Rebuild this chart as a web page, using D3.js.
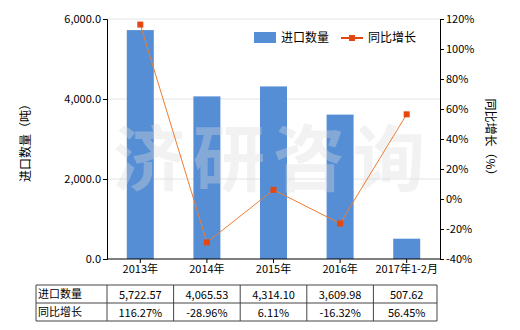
<!DOCTYPE html>
<html><head><meta charset="utf-8">
<script src="https://cdn.jsdelivr.net/npm/d3@7"></script>
<style>body{margin:0;background:#fff}svg{display:block}text{font-family:"Noto Sans CJK SC","Noto Sans",sans-serif}</style>
</head><body>
<script>
const categories = ["2013年","2014年","2015年","2016年","2017年1-2月"];
const importQty = [5722.57, 4065.53, 4314.10, 3609.98, 507.62];
const growth = [116.27, -28.96, 6.11, -16.32, 56.45];
const qtyLabels = ["5,722.57","4,065.53","4,314.10","3,609.98","507.62"];
const growthLabels = ["116.27%","-28.96%","6.11%","-16.32%","56.45%"];
const leftTicks = [0, 2000, 4000, 6000];
const rightTicks = [-40,-20,0,20,40,60,80,100,120];
const seriesNames = ["进口数量","同比增长"];

const W=520,H=330;
const m={l:107,r:440,t:19,b:259};
const svg=d3.select("body").append("svg").attr("width",W).attr("height",H);
const x=d3.scaleBand().domain(categories).range([m.l,m.r]).paddingInner(0.6).paddingOuter(0.3);
const xc=d3.scaleBand().domain(categories).range([m.l,m.r]);
const y=d3.scaleLinear().domain([0,6000]).range([m.b,m.t]);
const y2=d3.scaleLinear().domain([-40,120]).range([m.b,m.t]);

// gridlines
svg.append("g").selectAll("line").data(leftTicks.filter(d=>d>0)).join("line")
 .attr("x1",m.l).attr("x2",m.r).attr("y1",d=>y(d)).attr("y2",d=>y(d))
 .attr("stroke","#e3e3e3").attr("stroke-width",1);

// bars
const bw=27;
svg.append("g").selectAll("rect").data(importQty).join("rect")
 .attr("x",(d,i)=>xc(categories[i])+xc.bandwidth()/2-bw/2)
 .attr("width",bw).attr("y",d=>y(d)).attr("height",d=>m.b-y(d)).attr("fill","#558ed5");

// watermark
svg.append("text").attr("x",273).attr("y",185).attr("text-anchor","middle")
 .attr("font-size",72).attr("font-weight","bold").attr("fill","#dcdcdc").attr("opacity",0.35)
 .attr("letter-spacing",8).text("济研咨询");

// line
const line=d3.line().x((d,i)=>xc(categories[i])+xc.bandwidth()/2).y(d=>y2(d));
svg.append("path").datum(growth).attr("d",line).attr("fill","none").attr("stroke","#ed7d31").attr("stroke-width",1);
svg.append("g").selectAll("rect").data(growth).join("rect")
 .attr("x",(d,i)=>xc(categories[i])+xc.bandwidth()/2-3).attr("y",d=>y2(d)-3)
 .attr("width",6).attr("height",6).attr("fill","#e2480f");

// axes
const fs=11;
const la=d3.axisLeft(y).tickValues(leftTicks).tickFormat(d3.format(",.1f")).tickSize(4);
const gL=svg.append("g").attr("transform",`translate(${m.l},0)`).call(la);
const ra=d3.axisRight(y2).tickValues(rightTicks).tickFormat(d=>d+"%").tickSize(4);
const gR=svg.append("g").attr("transform",`translate(${m.r},0)`).call(ra);
const xa=d3.axisBottom(xc).tickSize(4);
const gB=svg.append("g").attr("transform",`translate(0,${m.b})`).call(xa);
[gL,gR,gB].forEach(g=>{
  g.select(".domain").attr("stroke","#000");
  g.selectAll(".tick line").attr("stroke","#000");
  g.selectAll("text").attr("font-size",fs).attr("fill","#000").style("font-family",'"Noto Sans CJK SC",sans-serif');
});
gB.select(".domain").attr("d",`M${m.l},0H${m.r}`);
gL.selectAll("text").attr("x",-6);
gR.selectAll("text").attr("x",6);
gB.selectAll("text").attr("y",6);

// axis titles
svg.append("text").attr("transform","translate(30,140) rotate(-90)").attr("text-anchor","middle")
 .attr("font-size",12).text("进口数量（吨）");
svg.append("text").attr("transform","translate(486,140) rotate(90)").attr("text-anchor","middle")
 .attr("font-size",12).text("同比增长（%）");

// legend
svg.append("rect").attr("x",254).attr("y",32).attr("width",22).attr("height",11).attr("fill","#558ed5");
svg.append("text").attr("x",281).attr("y",42).attr("font-size",12).text(seriesNames[0]);
svg.append("line").attr("x1",341).attr("x2",363).attr("y1",38).attr("y2",38).attr("stroke","#e2480f").attr("stroke-width",2);
svg.append("rect").attr("x",349).attr("y",35).attr("width",6).attr("height",6).attr("fill","#e2480f");
svg.append("text").attr("x",368).attr("y",42).attr("font-size",12).text(seriesNames[1]);

// table
const tL=36, rowY=[285,303,321];
const tb=svg.append("g");
const cols=[tL].concat(categories.map(c=>xc(c))).concat([m.r-3]);
// horizontal lines
rowY.forEach(yy=>tb.append("line").attr("x1",tL).attr("x2",m.r-3).attr("y1",yy).attr("y2",yy).attr("stroke","#444"));
cols.forEach(xx=>tb.append("line").attr("x1",xx).attr("x2",xx).attr("y1",rowY[0]).attr("y2",rowY[2]).attr("stroke","#444"));
const rows=[qtyLabels,growthLabels];
rows.forEach((r,ri)=>{
  tb.append("text").attr("x",tL+2).attr("y",rowY[ri]+13).attr("font-size",11).text(seriesNames[ri]);
  r.forEach((v,i)=>tb.append("text").attr("x",xc(categories[i])+xc.bandwidth()/2).attr("y",rowY[ri]+14)
    .attr("text-anchor","middle").attr("font-size",11).text(v));
});
</script>
</body></html>
